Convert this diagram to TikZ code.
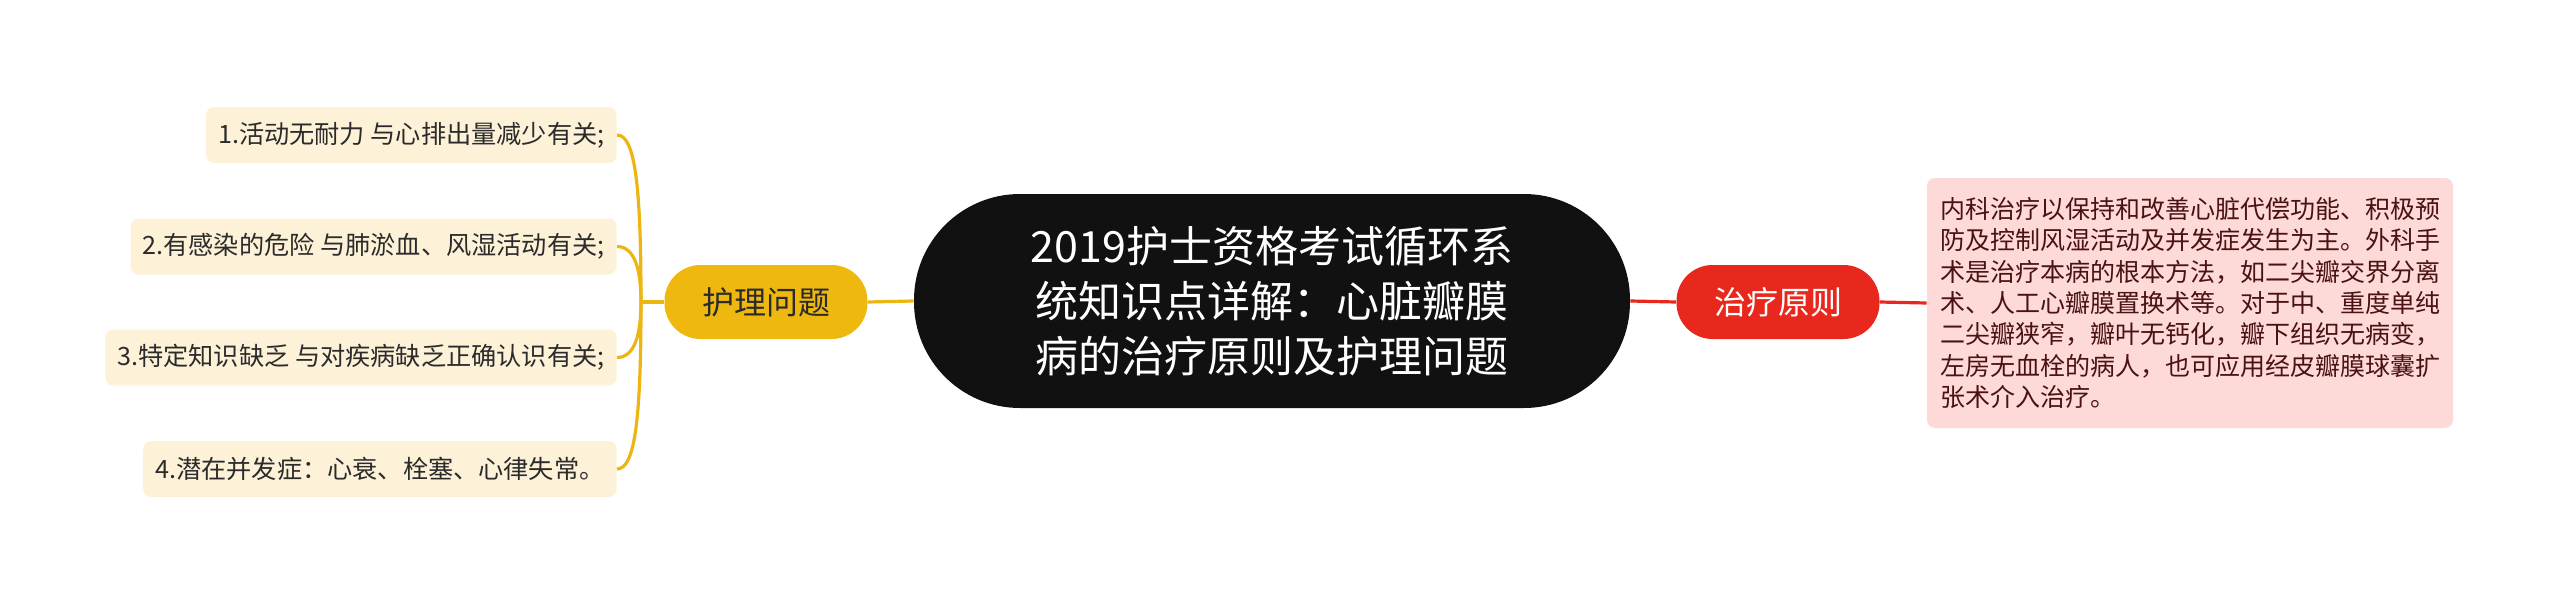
\documentclass[tikz,border=0pt]{standalone}
\usepackage{fontspec}
\setmainfont{Noto Sans CJK SC}
\definecolor{cblack}{HTML}{111111}
\definecolor{cyel}{HTML}{EFB80F}
\definecolor{cyline}{HTML}{EDB512}
\definecolor{cred}{HTML}{E8281D}
\definecolor{ccream}{HTML}{FDF2D8}
\definecolor{cpink}{HTML}{FDD9D7}
\definecolor{cdark}{HTML}{2B2B2B}
\definecolor{cmaroon}{HTML}{4A1212}
\begin{document}
\begin{tikzpicture}[x=0.5pt,y=-0.5pt,
  yline/.style={draw=cyline,line width=1.6pt},
  rline/.style={draw=cred,line width=1.6pt},
  centralbox/.style={fill=cblack,text=white,rounded corners=53pt,minimum width=358pt,minimum height=107pt,align=center,inner sep=0pt,font=\fontsize{21.5pt}{27.5pt}\selectfont},
  branchbox/.style={rounded corners=18pt,minimum width=101.5pt,minimum height=37pt,inner sep=0pt,font=\fontsize{16pt}{19pt}\selectfont},
  leafbox/.style={fill=ccream,text=cdark,rounded corners=4pt,minimum height=28pt,inner xsep=6pt,inner ysep=0pt,anchor=east,font=\fontsize{12.6pt}{16pt}\selectfont},
  detailbox/.style={fill=cpink,text=cmaroon,rounded corners=4pt,minimum height=125pt,text width=250pt,inner xsep=6.5pt,inner ysep=0pt,align=left,font=\fontsize{12.5pt}{15.65pt}\selectfont}
]
\useasboundingbox (0,0) rectangle (2560,605);
\node[centralbox] (central) at (1272,301) {2019护士资格考试循环系\\统知识点详解：心脏瓣膜\\病的治疗原则及护理问题};
\node[branchbox,fill=cyel,text=cdark] (hl) at (766,302) {护理问题};
\node[branchbox,fill=cred,text=white] (zl) at (1778,302) {治疗原则};
\node[detailbox] (detail) at (2190,303) {内科治疗以保持和改善心脏代偿功能、积极预\\防及控制风湿活动及并发症发生为主。外科手\\术是治疗本病的根本方法，如二尖瓣交界分离\\术、人工心瓣膜置换术等。对于中、重度单纯\\二尖瓣狭窄，瓣叶无钙化，瓣下组织无病变，\\左房无血栓的病人，也可应用经皮瓣膜球囊扩\\张术介入治疗。};
\node[leafbox] (l1) at (617,135) {1.活动无耐力 与心排出量减少有关;};
\node[leafbox] (l2) at (617,246.5) {2.有感染的危险 与肺淤血、风湿活动有关;};
\node[leafbox] (l3) at (617,357.5) {3.特定知识缺乏 与对疾病缺乏正确认识有关;};
\node[leafbox] (l4) at (617,469) {4.潜在并发症：心衰、栓塞、心律失常。};
\coordinate (jn) at (641,302);
\draw[yline] (central.west) -- (hl.east);
\draw[yline] (hl.west) -- (jn);
\draw[yline] (l1.east) .. controls ([xshift=-3pt]l1.east -| jn) and ([yshift=-25pt]l1.east -| jn) .. (jn);
\draw[yline] (l2.east) .. controls ([xshift=-3pt]l2.east -| jn) and ([yshift=-12pt]l2.east -| jn) .. (jn);
\draw[yline] (l3.east) .. controls ([xshift=-3pt]l3.east -| jn) and ([yshift=12pt]l3.east -| jn) .. (jn);
\draw[yline] (l4.east) .. controls ([xshift=-3pt]l4.east -| jn) and ([yshift=25pt]l4.east -| jn) .. (jn);
\draw[rline] (central.east) -- (zl.west);
\draw[rline] (zl.east) -- (detail.west);
\end{tikzpicture}
\end{document}
